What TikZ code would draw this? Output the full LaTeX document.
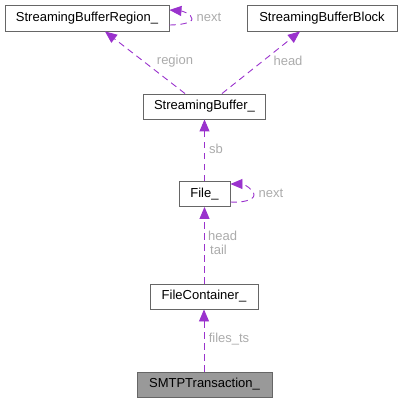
\documentclass[tikz,border=0pt]{standalone}
\usepackage{fontspec}
\setmainfont{Liberation Sans}
\usetikzlibrary{arrows.meta}
\definecolor{edgepurple}{HTML}{9A32CD}
\definecolor{lblgray}{HTML}{ABABAB}
\definecolor{boxborder}{HTML}{666666}
\definecolor{hlfill}{HTML}{999999}
\begin{document}
\begin{tikzpicture}[x=1pt,y=-1pt,
  cls/.style={draw=boxborder,line width=0.9pt,fill=white,inner sep=0pt,
    font=\fontsize{13}{15}\selectfont,text=black},
  hl/.style={cls,fill=hlfill},
  dep/.style={draw=edgepurple,line width=0.9pt,dash pattern=on 6.5pt off 4.5pt,
    -{Triangle[length=12pt,width=10pt,fill=edgepurple]}},
  lbl/.style={text=lblgray,font=\fontsize{13}{14}\selectfont,inner sep=0pt,align=left}]
\useasboundingbox (0,0) rectangle (402,403);
\node[cls,minimum width=164pt,minimum height=26pt] (sbr) at (87,18) {StreamingBufferRegion\_};
\node[cls,minimum width=150pt,minimum height=26pt] (sbb) at (322,18) {StreamingBufferBlock};
\node[cls,minimum width=122pt,minimum height=25pt] (sb) at (204.5,106.5) {StreamingBuffer\_};
\node[cls,minimum width=51pt,minimum height=25pt] (file) at (204.5,194) {File\_};
\node[cls,minimum width=108pt,minimum height=25pt] (fc) at (204,296.5) {FileContainer\_};
\node[hl,minimum width=135pt,minimum height=25pt] (smtp) at (204.5,384.5) {SMTPTransaction\_};
% edges
\draw[dep] (sb.north -| 185,0) -- (sbr.south -| 105,0);
\node[lbl] (lregion) at (175,61) {region};
\draw[dep] (sb.north -| 222,0) -- (sbb.south -| 300,0);
\node[lbl] (lhead) at (288,61) {head};
\coordinate (sbrloop) at (192,19);
\draw[dep] (sbr.south east |- 0,25) .. controls (180,25) and (192,23) .. (sbrloop) .. controls (192,14) and (182,11) .. (sbr.north east |- 0,10);
\node[lbl] (lnext1) at (209,17) {next};
\draw[dep] (file.north) -- (sb.south);
\node[lbl] (lsb) at (216,149) {sb};
\coordinate (fileloop) at (254,195);
\draw[dep] (file.south east |- 0,202) .. controls (242,203) and (254,200) .. (fileloop) .. controls (254,189) and (243,184) .. (file.north east |- 0,184);
\node[lbl] (lnext2) at (271,193) {next};
\draw[dep] (fc.north -| file.south) -- (file.south);
\node[lbl,anchor=west] (lht) at (208,243) {head\\\hspace*{2pt}tail};
\draw[dep] (smtp.north -| fc.south) -- (fc.south);
\node[lbl] (lfts) at (229,339) {files\_ts};
\end{tikzpicture}
\end{document}
